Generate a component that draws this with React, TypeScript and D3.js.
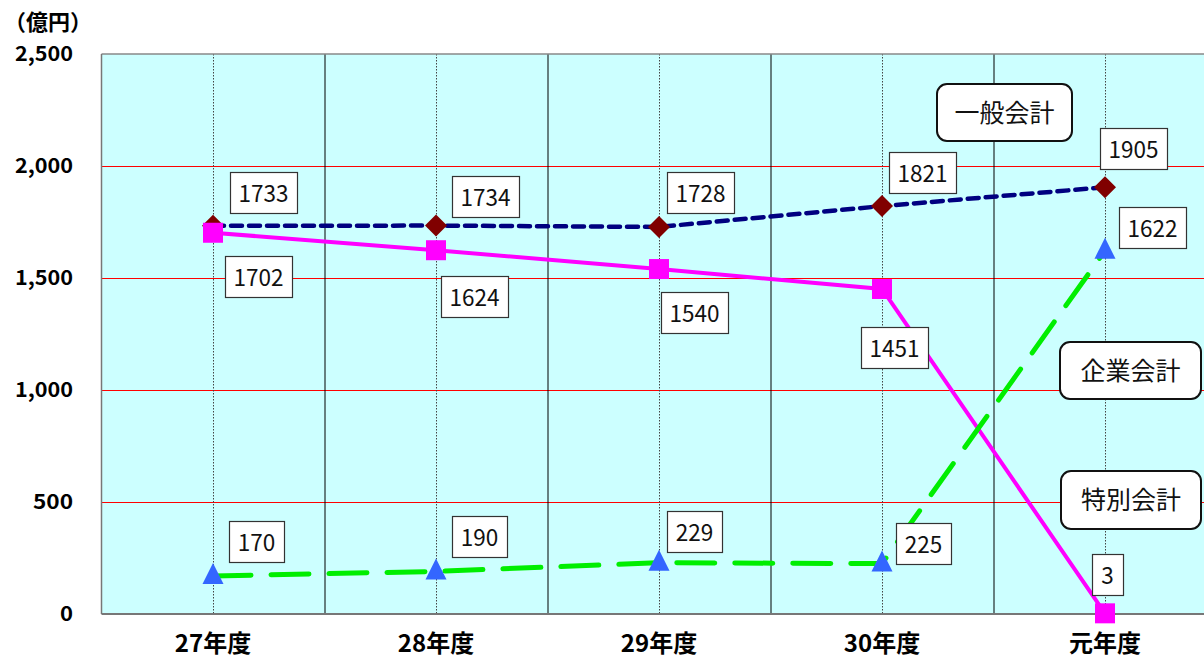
import * as d3 from "d3";
import React from "react";

// 年度
const years = ["27年度", "28年度", "29年度", "30年度", "元年度"];
// 一般会計
const general = [1733, 1734, 1728, 1821, 1905];
// 企業会計
const enterprise = [1702, 1624, 1540, 1451, 3];
// 特別会計
const special = [170, 190, 229, 225, 1622];
const yTicks = [0, 500, 1000, 1500, 2000, 2500];

// label box offsets from the point (left, top)
const generalOff = [[17, -54], [16, -50], [8, -55], [7, -54], [-5, -59]];
const enterpriseOff = [[12, 23], [5, 26], [2, 23], [-21, 38], [-13, -59]];
const specialOff = [[16, -55], [16, -55], [8, -52], [14, -41], [14, -44]];

const W = 1204;
const H = 660;
const left = 101.5;
const top = 54;
const bottom = 614;
const band = 223;

const font = "'Noto Sans CJK JP', 'Noto Sans', sans-serif";

function Label({ x, y, text }: { x: number; y: number; text: string }) {
  const w = text.length * 12 + 19;
  return (
    <g>
      <rect x={Math.round(x) + 0.5} y={Math.round(y) + 0.5} width={w} height={41} fill="#fff" stroke="#333" strokeWidth={1.2} />
      <text x={x + w / 2} y={y + 30} textAnchor="middle" fontSize={23} fontFamily={font} fill="#111" textLength={text.length * 12.5} lengthAdjust="spacingAndGlyphs">
        {text}
      </text>
    </g>
  );
}

function Legend({ x, y, w, h, text }: { x: number; y: number; w: number; h: number; text: string }) {
  return (
    <g>
      <rect x={x} y={y} width={w} height={h} rx={10} fill="#fff" stroke="#111" strokeWidth={2} />
      <text x={x + w / 2} y={y + h / 2 + 9} textAnchor="middle" fontSize={25} fontFamily={font} fill="#111">
        {text}
      </text>
    </g>
  );
}

export default function App() {
  const x = d3.scaleBand<string>().domain(years).range([left, left + band * years.length]);
  const cx = (i: number) => (x(years[i]) as number) + x.bandwidth() / 2;
  const y = d3.scaleLinear().domain([0, 2500]).range([bottom, top]);
  const line = d3
    .line<number>()
    .x((_, i) => cx(i))
    .y((d) => y(d));

  return (
    <svg width={W} height={H} style={{ position: "absolute", left: 0, top: 0 }}>
      <rect x={left} y={top} width={W - left} height={bottom - top} fill="#CCFFFF" />
      {yTicks.slice(1, -1).map((t) => (
        <line key={t} x1={left} x2={W} y1={y(t) + 0.5} y2={y(t) + 0.5} stroke="#FF0000" strokeWidth={1} />
      ))}
      {years.map((c, i) => (
        <g key={c}>
          <line x1={cx(i) + 0.5} x2={cx(i) + 0.5} y1={top} y2={bottom} stroke="#444" strokeDasharray="1.5,1.5" strokeWidth={1} />
          {i > 0 && (
            <line x1={(x(c) as number) + 0.5} x2={(x(c) as number) + 0.5} y1={top} y2={bottom} stroke="#000" strokeWidth={1} />
          )}
        </g>
      ))}
      <line x1={left} x2={W} y1={top} y2={top} stroke="#888" strokeWidth={1.5} />
      <line x1={left} x2={left} y1={top} y2={bottom} stroke="#777" strokeWidth={1.5} />
      <line x1={left} x2={W} y1={bottom} y2={bottom} stroke="#777" strokeWidth={2} />

      {yTicks.map((t) => (
        <text key={t} x={73} y={y(t) + 7} textAnchor="end" fontSize={20} fontWeight="bold" fontFamily={font} fill="#000" textLength={t === 0 ? 13 : t < 1000 ? 40 : 58} lengthAdjust="spacingAndGlyphs">
          {d3.format(",")(t)}
        </text>
      ))}
      <text x={4} y={30} fontSize={22} fontWeight="bold" fontFamily={font} fill="#000">
        （億円）
      </text>
      {years.map((c, i) => (
        <text key={c} x={cx(i)} y={652} textAnchor="middle" fontSize={24} fontWeight="bold" fontFamily={font} fill="#000">
          {c}
        </text>
      ))}

      <path d={line(general) as string} fill="none" stroke="#000080" strokeWidth={4.5} strokeDasharray="11,7" strokeLinecap="round" />
      {general.map((v, i) => (
        <path key={i} d={`M${cx(i)},${y(v) - 11}L${cx(i) + 11},${y(v)}L${cx(i)},${y(v) + 11}L${cx(i) - 11},${y(v)}Z`} fill="#800000" />
      ))}

      <path d={line(enterprise) as string} fill="none" stroke="#FF00FF" strokeWidth={4} />
      {enterprise.map((v, i) => (
        <rect key={i} x={cx(i) - 10} y={y(v) - 10} width={20} height={20} fill="#FF00FF" />
      ))}

      <path d={line(special) as string} fill="none" stroke="#00EE00" strokeWidth={5} strokeDasharray="38,20" strokeLinecap="round" />
      {special.map((v, i) => (
        <path key={i} d={`M${cx(i)},${y(v) - 13}L${cx(i) + 10.5},${y(v) + 8}L${cx(i) - 10.5},${y(v) + 8}Z`} fill="#3366FF" />
      ))}

      {general.map((v, i) => (
        <Label key={"g" + i} x={cx(i) + generalOff[i][0]} y={y(v) + generalOff[i][1]} text={String(v)} />
      ))}
      {enterprise.map((v, i) => (
        <Label key={"e" + i} x={cx(i) + enterpriseOff[i][0]} y={y(v) + enterpriseOff[i][1]} text={String(v)} />
      ))}
      {special.map((v, i) => (
        <Label key={"s" + i} x={cx(i) + specialOff[i][0]} y={y(v) + specialOff[i][1]} text={String(v)} />
      ))}

      <Legend x={937} y={84} w={135} h={57} text="一般会計" />
      <Legend x={1060} y={342} w={141} h={57} text="企業会計" />
      <Legend x={1061} y={471} w={140} h={58} text="特別会計" />
    </svg>
  );
}
